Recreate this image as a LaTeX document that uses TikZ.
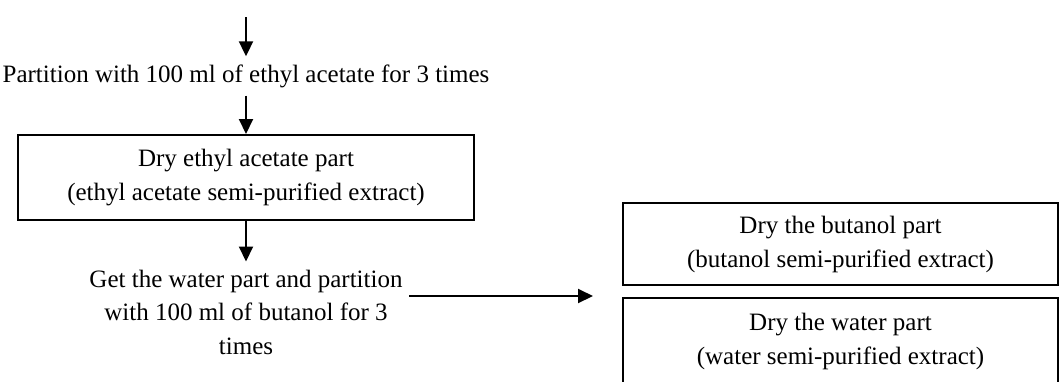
\documentclass[tikz,border=0pt]{standalone}
\usepackage{fontspec}
\setmainfont{Liberation Serif}
\usetikzlibrary{arrows.meta}
\begin{document}
\begin{tikzpicture}
  [x=1pt,y=-1pt,
   stage/.style={align=center,inner sep=8pt,
                 font=\fontsize{25}{33.5}\selectfont},
   box/.style={rectangle,draw=black,line width=2pt,align=center,
               inner sep=0,font=\fontsize{25}{34}\selectfont},
   flow/.style={line width=2pt,-{Triangle[length=15pt,width=14pt]}}]
  \useasboundingbox (0,0) rectangle (1059,381);
  \coordinate (start) at (246,17);
  \node[stage] (partEA) at (246,76) {Partition with 100 ml of ethyl acetate for 3 times};
  \node[box,minimum width=456pt,minimum height=85pt] (dryEA) at (246,177.5)
    {Dry ethyl acetate part\\(ethyl acetate semi-purified extract)};
  \node[stage] (getWP) at (246,312) {Get the water part and partition\\with 100 ml of butanol for 3\\times};
  \node[box,minimum width=435pt,minimum height=82pt] (dryBu) at (840.5,244)
    {Dry the butanol part\\(butanol semi-purified extract)};
  \node[box,minimum width=435pt,minimum height=86pt] (dryWP) at (840.5,341)
    {Dry the water part\\(water semi-purified extract)};
  \coordinate (split) at (409,296);
  \coordinate (fork) at (593,296);
  \draw[flow] (start) -- (partEA);
  \draw[flow] (partEA) -- (dryEA);
  \draw[flow] (dryEA) -- (getWP);
  \draw[flow] (split) -- (fork);
\end{tikzpicture}
\end{document}
